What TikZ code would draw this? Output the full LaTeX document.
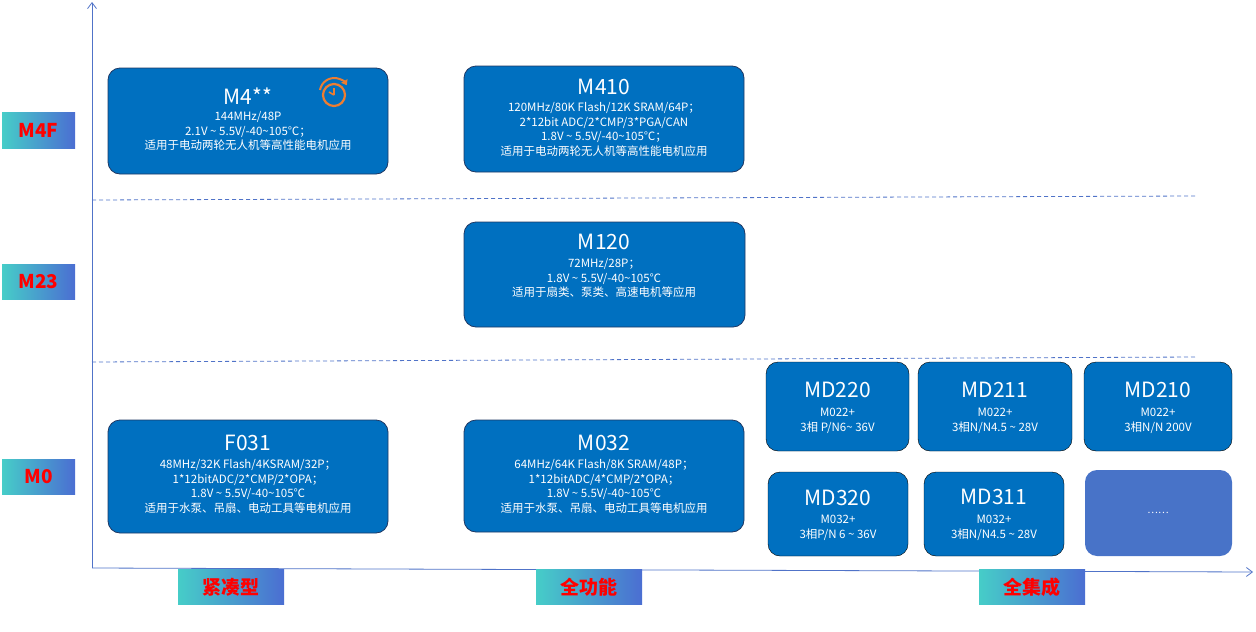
\documentclass[tikz,border=0pt]{standalone}
\usepackage{fontspec}
\setmainfont{Noto Sans CJK SC}
\usetikzlibrary{arrows.meta}
\definecolor{bx}{RGB}{0,112,192}
\definecolor{bd}{RGB}{31,56,100}
\definecolor{ax}{RGB}{80,115,200}
\definecolor{ga}{RGB}{70,205,200}
\definecolor{gb}{RGB}{75,110,210}
\definecolor{ck}{RGB}{237,125,49}
\begin{document}
\begin{tikzpicture}[x=1pt,y=-1pt,
 box/.style={draw=bd,line width=0.8pt,fill=bx,rounded corners=12pt,inner sep=0pt},
 mbox/.style={fill=bx,rounded corners=12pt,inner sep=0pt},
 ttl/.style={text=white,font=\fontsize{21}{22}\selectfont,anchor=center},
 bdy/.style={text=white,font=\fontsize{11.5}{14.5}\selectfont,align=center,anchor=north},
 lab/.style={left color=ga,right color=gb,inner sep=0pt,text=red,font=\fontsize{19}{20}\selectfont\bfseries},
 dl/.style={draw=ax,dash pattern=on 4pt off 3pt,line width=0.8pt}]
\useasboundingbox (0,0) rectangle (1256,632);
% axes
\coordinate (o) at (92,568);
\coordinate (yt) at (92,2);
\coordinate (xt) at (1253,572);
\draw[ax,line width=0.8pt,-{Straight Barb[length=6pt,width=9pt]}] (o) -- (yt);
\draw[ax,line width=0.8pt,-{Straight Barb[length=6pt,width=9pt]}] (o) -- (xt);
\coordinate (d1a) at (92,200); \coordinate (d1b) at (1195,196);
\coordinate (d2a) at (92,362); \coordinate (d2b) at (1195,357);
\draw[dl] (d1a) -- (d1b);
\draw[dl] (d2a) -- (d2b);
% axis labels
\node[lab,minimum width=73pt,minimum height=36pt] (l1) at (38.5,130) {M4F};
\node[lab,minimum width=73pt,minimum height=35pt] (l2) at (38.5,282) {M23};
\node[lab,minimum width=73pt,minimum height=35pt] (l3) at (38.5,477) {M0};
\node[lab,minimum width=106pt,minimum height=35pt] (b1) at (231,587) {紧凑型};
\node[lab,minimum width=106pt,minimum height=35pt] (b2) at (589,587) {全功能};
\node[lab,minimum width=106pt,minimum height=35pt] (b3) at (1032,587) {全集成};
% big boxes
\draw[box] (108,68) rectangle (388,174);
\node[ttl] (t1) at (248,96) {M4**};
\node[bdy] (c1) at (248,108) {144MHz/48P\\2.1V \textasciitilde{} 5.5V/-40\textasciitilde105℃；\\适用于电动两轮无人机等高性能电机应用};
\draw[box] (464,66) rectangle (744,172);
\node[ttl] (t2) at (604,87) {M410};
\node[bdy] (c2) at (604,99) {120MHz/80K Flash/12K SRAM/64P；\\2*12bit ADC/2*CMP/3*PGA/CAN\\1.8V \textasciitilde{} 5.5V/-40\textasciitilde105℃；\\适用于电动两轮无人机等高性能电机应用};
\draw[box] (464,222) rectangle (745,327);
\node[ttl] (t3) at (604,242) {M120};
\node[bdy] (c3) at (604,255) {72MHz/28P；\\1.8V \textasciitilde{} 5.5V/-40\textasciitilde105℃\\适用于扇类、泵类、高速电机等应用};
\draw[box] (108,420) rectangle (388,533);
\node[ttl] (t4) at (248,443) {F031};
\node[bdy] (c4) at (248,456) {48MHz/32K Flash/4KSRAM/32P；\\1*12bitADC/2*CMP/2*OPA；\\1.8V \textasciitilde{} 5.5V/-40\textasciitilde105℃\\适用于水泵、吊扇、电动工具等电机应用};
\draw[box] (464,420) rectangle (744,532);
\node[ttl] (t5) at (604,443) {M032};
\node[bdy] (c5) at (604,456) {64MHz/64K Flash/8K SRAM/48P；\\1*12bitADC/4*CMP/2*OPA；\\1.8V \textasciitilde{} 5.5V/-40\textasciitilde105℃\\适用于水泵、吊扇、电动工具等电机应用};
% clock icon
\node[circle,draw=ck,line width=2.2pt,minimum size=22pt,inner sep=0pt] (ck) at (334,95) {};
\draw[ck,line width=1.6pt] (ck.center) -- ++(0,-7) (ck.center) -- ++(-5,-3);
\draw[ck,line width=2pt,-{Triangle[length=5pt,width=7pt]}] (320,90) arc (190:330:14.5);
% small boxes
\draw[mbox] (766,362) rectangle (909,451);
\node[ttl] (s1) at (837.5,390) {MD220};
\node[bdy] (s1b) at (837.5,405) {M022+\\3相 P/N6\textasciitilde{} 36V};
\draw[mbox] (918,362) rectangle (1072,451);
\node[ttl] (s2) at (995,390) {MD211};
\node[bdy] (s2b) at (995,405) {M022+\\3相N/N4.5 \textasciitilde{} 28V};
\draw[mbox] (1084,362) rectangle (1232,451);
\node[ttl] (s3) at (1158,390) {MD210};
\node[bdy] (s3b) at (1158,405) {M022+\\3相N/N 200V};
\draw[mbox] (768,472) rectangle (908,556);
\node[ttl] (s4) at (838,498) {MD320};
\node[bdy] (s4b) at (838,512) {M032+\\3相P/N 6 \textasciitilde{} 36V};
\draw[mbox] (924,472) rectangle (1064,556);
\node[ttl] (s5) at (994,497) {MD311};
\node[bdy] (s5b) at (994,512) {M032+\\3相N/N4.5 \textasciitilde{} 28V};
\draw[fill={rgb,255:red,72;green,115;blue,200},rounded corners=12pt,draw=none] (1085,470) rectangle (1232,556);
\node[text=white,font=\fontsize{10}{10}\selectfont] (s6) at (1158,513) {……};
\end{tikzpicture}
\end{document}
